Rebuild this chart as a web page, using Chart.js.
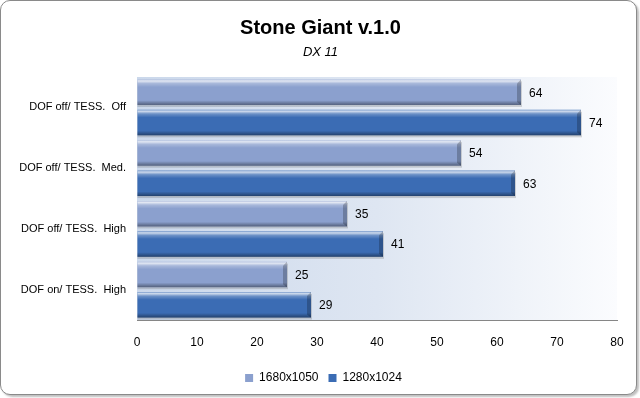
<!DOCTYPE html>
<html lang="en">
<head>
  <meta charset="UTF-8" />
  <title>Stone Giant v.1.0</title>
  <script src="https://cdn.jsdelivr.net/npm/chart.js"></script>
  <style>
    body { margin: 0; background: #fff; }
    #frame {
      position: absolute; left: 0; top: 0; width: 635px; height: 393px;
      border: 1px solid #8a8a8a; border-radius: 10px; background: #fff;
      box-shadow: 2px 2px 2px rgba(0,0,0,0.25);
    }
    #chart { position: absolute; left: 0; top: 0; }
  </style>
</head>
<body>
  <div id="frame"></div>
  <canvas id="chart" width="640" height="398"></canvas>

  <script>
    // chart data
    const categories = ['DOF off/ TESS.  Off', 'DOF off/ TESS.  Med.', 'DOF off/ TESS.  High', 'DOF on/ TESS.  High'];
    const seriesNames = ['1680x1050', '1280x1024'];
    const values1680 = [64, 54, 35, 25];
    const values1280 = [74, 63, 41, 29];
    const xMin = 0, xMax = 80, xStep = 10;

    const fontFamily = '"Liberation Sans", Arial, sans-serif';

    // plot area background: light blue on the left fading to white
    const plotBackground = {
      id: 'plotBackground',
      beforeDatasetsDraw(chart) {
        const { ctx, chartArea: a } = chart;
        const g = ctx.createLinearGradient(a.left, 0, a.right, 0);
        g.addColorStop(0, 'rgb(203,216,235)');
        g.addColorStop(0.5, 'rgb(222,230,242)');
        g.addColorStop(1, 'rgb(251,252,254)');
        ctx.save();
        ctx.fillStyle = g;
        ctx.fillRect(a.left, a.top, a.right - a.left, a.bottom - a.top);
        // soft shadow under each bar
        ctx.fillStyle = 'rgba(60,60,60,0.2)';
        chart.data.datasets.forEach((ds, i) => {
          chart.getDatasetMeta(i).data.forEach(bar => {
            const h = bar.height;
            ctx.fillRect(bar.base, bar.y - h / 2 + 2, bar.x - bar.base + 1, h);
          });
        });
        ctx.restore();
      }
    };

    // bevel shading on top of the bars + value labels
    const barShade = {
      id: 'barShade',
      afterDatasetsDraw(chart) {
        const { ctx } = chart;
        ctx.save();
        chart.data.datasets.forEach((ds, i) => {
          chart.getDatasetMeta(i).data.forEach((bar, j) => {
            const h = bar.height;
            const l = bar.base, r = bar.x, t = bar.y - h / 2, b = bar.y + h / 2;
            const g = ctx.createLinearGradient(0, t, 0, b);
            g.addColorStop(0, 'rgba(255,255,255,0.35)');
            g.addColorStop(0.06, 'rgba(255,255,255,0.75)');
            g.addColorStop(0.16, 'rgba(255,255,255,0.25)');
            g.addColorStop(0.3, 'rgba(255,255,255,0)');
            g.addColorStop(0.82, 'rgba(0,0,0,0)');
            g.addColorStop(1, 'rgba(0,0,0,0.4)');
            ctx.fillStyle = g;
            ctx.fillRect(l, t, r - l, h);
            // right end bevel
            ctx.fillStyle = 'rgba(0,0,0,0.22)';
            ctx.beginPath();
            ctx.moveTo(r - 4, t + 4);
            ctx.lineTo(r, t);
            ctx.lineTo(r, b);
            ctx.lineTo(r - 4, b - 3);
            ctx.closePath();
            ctx.fill();
            // value label
            ctx.fillStyle = '#000';
            ctx.font = '12px ' + fontFamily;
            ctx.textBaseline = 'middle';
            ctx.textAlign = 'left';
            ctx.fillText(ds.data[j], r + 8, bar.y + 1);
          });
        });
        ctx.restore();
      }
    };

    // title, subtitle and legend sit a bit right of the plot centre in the original
    const shiftBoxes = {
      id: 'shiftBoxes',
      afterLayout(chart) {
        chart.boxes.forEach(box => {
          if (box.axis) return;
          const dx = box.position === 'bottom' ? 15 : 12;
          box.left += dx;
          box.right += dx;
        });
      }
    };

    new Chart(document.getElementById('chart'), {
      type: 'bar',
      data: {
        labels: categories,
        datasets: [
          {
            label: seriesNames[0],
            data: values1680,
            backgroundColor: 'rgb(139,160,206)',
            borderWidth: 0,
            categoryPercentage: 1,
            barPercentage: 0.84
          },
          {
            label: seriesNames[1],
            data: values1280,
            backgroundColor: 'rgb(59,108,180)',
            borderWidth: 0,
            categoryPercentage: 1,
            barPercentage: 0.84
          }
        ]
      },
      options: {
        indexAxis: 'y',
        responsive: false,
        animation: false,
        devicePixelRatio: 1,
        layout: { padding: { left: 0, right: 23, top: 0, bottom: 4 } },
        plugins: {
          title: {
            display: true,
            text: 'Stone Giant v.1.0',
            color: '#000',
            font: { family: fontFamily, size: 20, weight: 'bold', lineHeight: 1.2 },
            padding: { top: 16, bottom: 3 }
          },
          subtitle: {
            display: true,
            text: 'DX 11',
            color: '#000',
            font: { family: fontFamily, size: 13, style: 'italic', lineHeight: 1.2 },
            padding: { top: 2, bottom: 16.4 }
          },
          legend: {
            position: 'bottom',
            labels: {
              color: '#000',
              font: { family: fontFamily, size: 12 },
              boxWidth: 8,
              boxHeight: 8,
              padding: 10
            }
          },
          tooltip: { enabled: false }
        },
        scales: {
          x: {
            min: xMin,
            max: xMax,
            ticks: { stepSize: xStep, color: '#000', font: { family: fontFamily, size: 12 }, padding: 15 },
            grid: { display: true, color: 'rgba(0,0,0,0)', drawTicks: false },
            border: { display: true, color: '#868686' },
            afterFit(s) { s.height = 42; }
          },
          y: {
            ticks: { color: '#000', font: { family: fontFamily, size: 11 }, padding: 11 },
            grid: { display: true, color: 'rgba(0,0,0,0)', drawTicks: false },
            border: { display: true, color: '#868686' },
            afterFit(s) { s.width = 137; }
          }
        }
      },
      plugins: [plotBackground, barShade, shiftBoxes]
    });
  </script>
</body>
</html>
